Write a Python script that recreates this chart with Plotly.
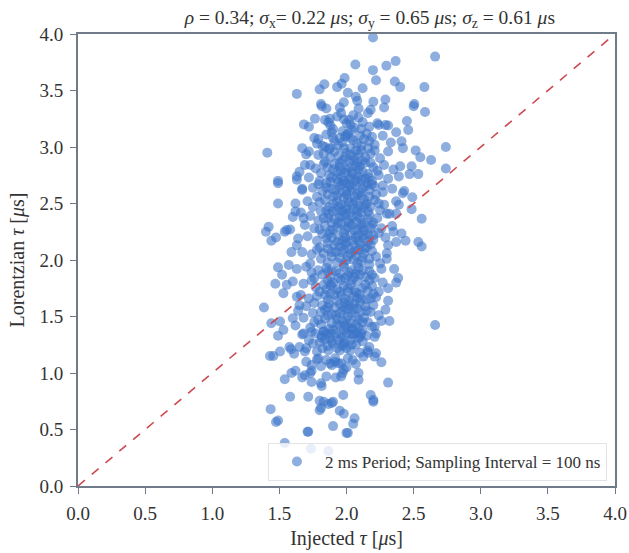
import plotly.graph_objects as go

# Outer / sparse points: (injected tau, lorentzian tau) in microseconds
outer_points = [
    (2.197, 3.97), (2.66, 3.80), (2.066, 3.73), (2.197, 3.68), (2.297, 3.72), (2.366, 3.76),
    (1.986, 3.61), (2.22, 3.59), (2.36, 3.58), (2.40, 3.53), (2.58, 3.53), (1.835, 3.555),
    (1.80, 3.51), (1.964, 3.56), (1.93, 3.53), (2.01, 3.48), (2.12, 3.52), (1.63, 3.47),
    (2.07, 3.445), (2.08, 3.41), (2.20, 3.40), (2.29, 3.42), (2.505, 3.38), (1.98, 3.395),
    (1.81, 3.38), (1.815, 3.36), (1.85, 3.34), (1.95, 3.35), (2.09, 3.34), (2.18, 3.33),
    (2.28, 3.35), (2.50, 3.36), (2.585, 3.31), (1.877, 3.25), (1.865, 3.22), (1.765, 3.25),
    (1.98, 3.245), (2.05, 3.28), (2.16, 3.30), (1.683, 3.20), (1.72, 3.18), (1.90, 3.16),
    (2.03, 3.20), (2.11, 3.16), (2.24, 3.195), (2.29, 3.195), (2.31, 3.19), (2.45, 3.23),
    (2.46, 3.15), (2.37, 3.13), (2.00, 3.105), (2.03, 3.08), (2.19, 3.09), (1.79, 3.07),
    (2.41, 3.05), (2.42, 2.99), (2.74, 3.00), (1.41, 2.95), (1.67, 2.99), (1.70, 2.935),
    (1.84, 3.00), (1.877, 2.99), (1.95, 3.08), (2.515, 2.97), (2.55, 2.91), (2.63, 2.885),
    (2.485, 2.83), (2.47, 2.76), (2.535, 2.76), (2.74, 2.81), (2.40, 2.83), (1.63, 2.74),
    (1.49, 2.70), (1.65, 2.78), (1.73, 2.84),
    (1.49, 2.68), (1.63, 2.71), (1.49, 2.50), (1.67, 2.63), (2.49, 2.555), (2.485, 2.45),
    (2.56, 2.365), (1.42, 2.295), (1.40, 2.25), (1.44, 2.17), (1.475, 2.20), (1.54, 2.25),
    (1.555, 2.265), (1.60, 2.38), (1.62, 2.43), (1.68, 2.37), (1.58, 2.27), (2.35, 2.25),
    (2.41, 2.235), (2.44, 2.17), (2.39, 2.49), (2.42, 2.59), (2.37, 2.41), (2.30, 2.41),
    (2.535, 2.16), (2.56, 2.12), (1.63, 2.13), (1.59, 2.07), (2.31, 2.13),
    (1.49, 1.935), (1.47, 1.79), (1.53, 1.705), (1.385, 1.58), (1.555, 1.78), (1.52, 1.87),
    (1.57, 1.955), (1.63, 1.675), (1.65, 1.60), (2.37, 1.80), (2.385, 1.84), (2.355, 1.92),
    (2.31, 1.75), (2.29, 1.56), (2.26, 1.46), (2.32, 1.46), (2.66, 1.425), (2.30, 2.01),
    (1.44, 1.44), (1.505, 1.455), (1.60, 1.485), (2.21, 1.41), (2.04, 1.395),
    (1.49, 1.33), (1.53, 1.38), (1.43, 1.15), (1.455, 1.15), (1.505, 1.19), (1.575, 1.23),
    (1.587, 1.21), (1.61, 1.17), (1.54, 0.944), (1.59, 1.00), (1.62, 1.02), (1.67, 0.96),
    (1.69, 0.98), (1.74, 0.92), (1.74, 1.02), (1.73, 1.00), (1.81, 0.91), (1.815, 0.885),
    (1.85, 0.97), (1.92, 0.96), (1.96, 0.97), (1.97, 1.00), (1.98, 1.03), (2.09, 1.00),
    (2.09, 0.94), (2.31, 0.915), (2.21, 1.32), (2.22, 1.35), (2.26, 1.095), (2.21, 1.145),
    (2.22, 1.175), (2.155, 1.20), (2.125, 1.145), (2.10, 1.18), (2.046, 1.115), (2.01, 1.13),
    (1.96, 1.085), (1.94, 1.085), (1.915, 1.10), (1.877, 1.085), (1.89, 1.07), (1.85, 1.115),
    (1.78, 1.12), (1.79, 1.13), (1.74, 1.07), (1.70, 1.10), (1.69, 1.19), (1.70, 1.22),
    (1.65, 1.23), (1.58, 0.79), (1.715, 0.79), (1.80, 0.755), (1.83, 0.746), (1.90, 0.746),
    (1.976, 0.805), (2.18, 0.805), (2.20, 0.76), (1.77, 1.35), (1.815, 1.33), (1.85, 1.345),
    (1.68, 1.35), (1.74, 1.365), (1.90, 1.26), (1.94, 1.29), (1.976, 1.26), (2.00, 1.22),
    (2.03, 1.20), (1.915, 1.13), (1.815, 1.31), (1.83, 1.365), (1.75, 1.26), (2.10, 1.32),
    (2.075, 1.35), (2.00, 1.35), (2.03, 1.34), (1.877, 1.31), (1.89, 1.35), (2.16, 1.18),
    (1.78, 1.19), (1.865, 1.20), (1.95, 1.20),
    (1.435, 0.68), (1.49, 0.58), (1.80, 0.67), (1.81, 0.69), (1.865, 0.725), (1.89, 0.735),
    (1.95, 0.666), (1.98, 0.64), (2.06, 0.60), (2.05, 0.55), (1.90, 0.53), (1.71, 0.48),
    (1.715, 0.48), (2.00, 0.47), (2.01, 0.47), (1.54, 0.38), (1.735, 0.33), (1.865, 0.31),
    (2.20, 0.746), (1.475, 0.566),
]

# Dense core of the cloud
core_points = [
    (1.93, 3.27), (2.02, 3.24), (2.12, 3.22), (1.88, 3.19), (2.06, 3.17), (2.23, 3.21), (1.97, 3.14), (2.15, 3.12),
    (1.76, 3.08), (1.85, 3.11), (1.91, 3.05), (1.99, 3.09), (2.08, 3.03), (2.13, 3.07), (2.21, 3.02), (2.27, 3.10),
    (1.82, 3.01), (2.03, 2.99), (2.33, 3.04),
    (1.72, 2.96), (1.79, 2.93), (1.87, 2.98), (1.94, 2.92), (2.00, 2.95), (2.06, 2.91), (2.11, 2.97), (2.18, 2.94),
    (2.25, 2.90), (2.31, 2.96), (1.97, 2.88), (2.08, 2.86), (1.84, 2.87),
    (1.69, 2.84), (1.77, 2.81), (1.83, 2.85), (1.90, 2.80), (1.95, 2.83), (2.02, 2.82), (2.09, 2.80), (2.14, 2.86),
    (2.20, 2.82), (2.28, 2.84), (2.35, 2.80), (1.99, 2.77), (2.05, 2.76), (2.16, 2.76), (1.87, 2.75),
    (1.72, 2.73), (1.80, 2.70), (1.93, 2.72), (1.98, 2.70), (2.03, 2.73), (2.11, 2.71), (2.19, 2.70), (2.24, 2.75),
    (2.31, 2.72), (2.39, 2.74), (1.85, 2.68), (2.07, 2.66), (2.14, 2.65), (1.95, 2.65), (2.27, 2.66),
    (1.67, 2.62), (1.75, 2.64), (1.82, 2.61), (1.89, 2.63), (2.00, 2.61), (2.04, 2.64), (2.10, 2.60), (2.17, 2.62),
    (2.22, 2.58), (2.34, 2.63), (2.43, 2.61), (1.93, 2.57), (1.98, 2.55), (2.06, 2.56), (2.13, 2.54), (1.78, 2.56),
    (1.71, 2.52), (1.84, 2.53), (1.90, 2.50), (1.96, 2.49), (2.02, 2.51), (2.09, 2.48), (2.15, 2.50), (2.21, 2.53),
    (2.28, 2.49), (2.37, 2.52), (1.62, 2.50), (1.75, 2.47), (2.00, 2.45), (2.25, 2.44),
    (1.66, 2.42), (1.73, 2.39), (1.81, 2.43), (1.87, 2.41), (1.93, 2.44), (1.99, 2.40), (2.04, 2.38), (2.11, 2.42),
    (2.17, 2.40), (2.23, 2.37), (2.32, 2.41), (1.91, 2.36), (2.07, 2.34), (2.13, 2.33), (1.79, 2.35),
    (1.69, 2.31), (1.76, 2.28), (1.84, 2.30), (1.90, 2.27), (1.96, 2.32), (2.01, 2.29), (2.06, 2.26), (2.12, 2.29),
    (2.19, 2.31), (2.26, 2.28), (2.34, 2.30), (1.98, 2.24), (2.09, 2.22), (2.16, 2.23), (1.87, 2.23),
    (1.64, 2.19), (1.71, 2.21), (1.78, 2.17), (1.85, 2.19), (1.93, 2.16), (1.99, 2.20), (2.04, 2.17), (2.10, 2.14),
    (2.20, 2.18), (2.29, 2.20), (2.37, 2.16), (1.95, 2.12), (2.02, 2.10), (2.15, 2.11), (1.80, 2.11),
    (1.67, 2.07), (1.74, 2.05), (1.83, 2.06), (1.89, 2.03), (1.96, 2.07), (2.07, 2.04), (2.13, 2.06), (2.22, 2.03),
    (2.30, 2.06), (2.00, 2.00), (2.11, 1.99), (1.86, 1.98), (2.25, 1.97), (1.73, 1.97),
    (1.63, 1.92), (1.70, 1.94), (1.79, 1.91), (1.85, 1.93), (1.92, 1.90), (1.98, 1.94), (2.04, 1.91), (2.09, 1.93),
    (2.17, 1.90), (2.26, 1.92), (2.01, 1.86), (2.14, 1.85), (1.88, 1.85), (1.76, 1.84), (2.21, 1.84),
    (1.60, 1.81), (1.68, 1.79), (1.74, 1.82), (1.83, 1.78), (1.90, 1.80), (1.96, 1.82), (2.03, 1.78), (2.08, 1.81),
    (2.19, 1.77), (2.27, 1.80), (1.93, 1.74), (2.06, 1.73), (2.12, 1.75), (1.80, 1.72), (2.24, 1.72),
    (1.66, 1.69), (1.72, 1.66), (1.78, 1.68), (1.86, 1.65), (1.91, 1.69), (1.99, 1.66), (2.05, 1.68), (2.15, 1.65),
    (2.22, 1.67), (2.31, 1.64), (1.95, 1.61), (2.02, 1.60), (2.10, 1.62), (1.82, 1.60), (1.70, 1.59),
    (1.64, 1.55), (1.75, 1.53), (1.84, 1.56), (1.89, 1.52), (1.97, 1.55), (2.04, 1.53), (2.08, 1.57), (2.18, 1.54),
    (2.24, 1.51), (1.93, 1.48), (2.00, 1.47), (2.13, 1.49), (1.79, 1.47), (1.68, 1.49),
    (1.62, 1.42), (1.73, 1.40), (1.81, 1.43), (1.87, 1.39), (1.95, 1.42), (2.01, 1.40), (2.07, 1.43), (2.12, 1.38),
    (2.19, 1.41), (1.92, 1.35), (2.05, 1.34), (2.15, 1.33), (1.67, 1.34),
    (1.80, 1.27), (1.86, 1.24), (1.93, 1.22), (1.99, 1.27), (2.07, 1.25), (2.12, 1.28), (1.72, 1.29), (2.17, 1.23),
    (1.81, 1.06), (2.00, 1.05), (2.07, 1.08),
]

# Extra points filling the most crowded centre of the cloud
center_points = [
    (1.96, 3.30), (2.09, 3.26), (1.84, 3.24), (2.17, 3.18), (2.00, 3.21),
    (1.89, 3.13), (2.01, 3.12), (2.10, 3.10), (1.94, 3.01), (2.17, 3.05), (2.05, 3.06), (1.78, 3.03),
    (1.83, 2.94), (1.91, 2.96), (1.98, 2.99), (2.03, 2.93), (2.14, 2.91), (2.21, 2.97), (2.09, 2.94),
    (1.95, 2.86), (2.12, 2.88), (2.02, 2.87),
    (1.86, 2.82), (1.93, 2.78), (2.00, 2.80), (2.07, 2.83), (2.12, 2.78), (2.23, 2.79), (1.81, 2.77),
    (1.96, 2.74), (2.09, 2.74), (2.02, 2.71), (2.17, 2.73),
    (1.79, 2.67), (1.88, 2.69), (1.92, 2.62), (1.97, 2.67), (2.02, 2.66), (2.08, 2.69), (2.15, 2.68),
    (2.21, 2.65), (2.00, 2.58), (2.11, 2.57), (1.86, 2.58), (2.27, 2.60),
    (1.80, 2.51), (1.87, 2.47), (1.93, 2.52), (2.05, 2.50), (2.12, 2.46), (2.18, 2.47), (1.97, 2.43),
    (2.03, 2.42), (2.08, 2.44), (1.85, 2.44), (2.24, 2.50),
    (1.83, 2.37), (1.89, 2.33), (1.95, 2.38), (2.01, 2.35), (2.10, 2.37), (2.16, 2.36), (2.20, 2.33),
    (1.93, 2.29), (2.04, 2.31), (2.13, 2.26), (1.80, 2.27),
    (1.82, 2.23), (1.89, 2.20), (1.97, 2.17), (2.07, 2.20), (2.13, 2.19), (2.24, 2.24), (1.91, 2.13),
    (2.06, 2.13), (1.99, 2.14), (2.18, 2.14),
    (1.78, 2.09), (1.86, 2.10), (1.92, 2.07), (2.03, 2.06), (2.09, 2.09), (2.17, 2.01), (1.95, 2.02),
    (2.05, 2.00), (1.81, 2.01), (2.19, 2.08),
    (1.74, 1.89), (1.82, 1.87), (1.89, 1.91), (1.95, 1.88), (2.07, 1.88), (2.12, 1.91), (1.99, 1.84),
    (2.06, 1.85), (2.19, 1.87), (1.86, 1.82),
    (1.77, 1.76), (1.85, 1.74), (1.89, 1.77), (1.98, 1.77), (2.01, 1.72), (2.10, 1.70), (2.16, 1.73),
    (1.96, 1.69), (2.08, 1.66), (1.84, 1.69), (2.20, 1.70),
    (1.76, 1.62), (1.87, 1.61), (1.91, 1.58), (1.99, 1.62), (2.06, 1.61), (2.14, 1.59), (1.95, 1.53),
    (2.01, 1.56), (2.11, 1.54), (1.81, 1.54), (2.20, 1.60),
    (1.76, 1.45), (1.84, 1.48), (1.89, 1.44), (1.97, 1.46), (2.03, 1.44), (2.09, 1.47), (1.98, 1.38),
    (2.09, 1.40), (1.83, 1.37), (2.16, 1.45),
    (1.84, 1.30), (1.89, 1.28), (1.96, 1.31), (2.03, 1.29), (2.09, 1.31), (1.97, 1.24), (2.04, 1.25), (1.82, 1.22),
]

# Innermost, most crowded strip around an injected tau of 2 us
inner_points = [
    (1.90, 3.08), (2.04, 3.15), (2.11, 3.01), (1.97, 3.04), (2.07, 2.97), (1.88, 2.91), (2.16, 2.99),
    (1.99, 2.91), (2.05, 2.88), (1.91, 2.85), (2.18, 2.86), (2.10, 2.83), (1.96, 2.79), (2.04, 2.78),
    (1.89, 2.73), (2.14, 2.72), (2.00, 2.68), (2.07, 2.71), (1.94, 2.69), (2.19, 2.67), (1.85, 2.64),
    (2.03, 2.61), (2.12, 2.63), (1.96, 2.60), (2.08, 2.58), (1.90, 2.56), (2.17, 2.56), (2.01, 2.54),
    (1.94, 2.47), (2.07, 2.52), (2.14, 2.49), (1.99, 2.47), (1.90, 2.43), (2.05, 2.45), (2.16, 2.43),
    (1.97, 2.39), (2.08, 2.39), (1.86, 2.37), (2.02, 2.33), (2.11, 2.31), (1.94, 2.33), (2.18, 2.28),
    (1.99, 2.27), (2.08, 2.27), (1.88, 2.26), (2.03, 2.22), (2.13, 2.22), (1.94, 2.21), (2.20, 2.22),
    (2.00, 2.16), (2.09, 2.17), (1.86, 2.15), (2.16, 2.16), (1.98, 2.09), (2.06, 2.08), (2.13, 2.10),
    (1.89, 2.07), (2.01, 2.03), (2.12, 2.02), (1.93, 1.98), (2.08, 1.97), (2.17, 1.96), (1.98, 1.96),
    (1.86, 1.90), (2.02, 1.89), (2.10, 1.87), (1.94, 1.84), (2.17, 1.82), (2.04, 1.82), (1.88, 1.78),
    (2.01, 1.75), (2.14, 1.78), (1.95, 1.72), (2.07, 1.71), (1.88, 1.70), (2.18, 1.66), (2.02, 1.64),
    (1.93, 1.64), (2.11, 1.66), (1.86, 1.58), (2.05, 1.57), (1.98, 1.58), (2.15, 1.55), (1.92, 1.51),
    (2.07, 1.50), (2.01, 1.50), (1.86, 1.51), (2.12, 1.45), (1.93, 1.43), (1.99, 1.42), (2.05, 1.38),
    (1.90, 1.38), (2.11, 1.35), (1.96, 1.34),
]

identity_line = [0.0, 4.0]
tick_values = [0.0, 0.5, 1.0, 1.5, 2.0, 2.5, 3.0, 3.5, 4.0]
tick_labels = ["0.0", "0.5", "1.0", "1.5", "2.0", "2.5", "3.0", "3.5", "4.0"]
legend_label = "2 ms Period; Sampling Interval = 100 ns"

pts = outer_points + core_points + center_points + inner_points
xs = [p[0] for p in pts]
ys = [p[1] for p in pts]

FONT = "Liberation Serif, Times New Roman, serif"
AXC = "#6f7b88"
TXT = "#333333"

fig = go.Figure()
fig.add_trace(go.Scatter(
    x=xs, y=ys, mode="markers", name=legend_label,
    marker=dict(size=10, color="rgba(58,115,200,0.58)", line=dict(width=0)),
))
fig.add_trace(go.Scatter(
    x=identity_line, y=identity_line, mode="lines", showlegend=False,
    line=dict(color="#cc4a50", width=1.6, dash="dash"),
))

axis_common = dict(
    range=[0, 4], tickvals=tick_values, ticktext=tick_labels,
    showgrid=False, zeroline=False, showline=True, mirror=True,
    linecolor=AXC, linewidth=2, ticks="outside", ticklen=6, tickwidth=1,
    tickcolor=AXC, tickfont=dict(family=FONT, size=19, color=TXT),
    ticklabelstandoff=3, automargin=False,
)

fig.update_layout(
    width=629, height=553,
    margin=dict(l=78, r=14, t=34, b=67, autoexpand=False),
    paper_bgcolor="white", plot_bgcolor="white",
    title=dict(
        text="<i>ρ</i> = 0.34; <i>σ</i><sub>x</sub>= 0.22 <i>μ</i>s; <i>σ</i><sub>y</sub> = 0.65 <i>μ</i>s; <i>σ</i><sub>z</sub> = 0.61 <i>μ</i>s",
        xref="container", yref="container",
        x=0.588, xanchor="center", y=0.969, yanchor="middle",
        font=dict(family=FONT, size=19.5, color=TXT),
    ),
    xaxis=dict(axis_common, title=dict(text="Injected <i>τ</i> [<i>μ</i>s]", standoff=8,
                                       font=dict(family=FONT, size=20, color=TXT))),
    yaxis=dict(axis_common, title=dict(text="Lorentzian <i>τ</i> [<i>μ</i>s]", standoff=9,
                                       font=dict(family=FONT, size=20, color=TXT))),
    legend=dict(
        x=0.985, y=0.011, xanchor="right", yanchor="bottom",
        bgcolor="rgba(255,255,255,0.8)", bordercolor="#e3e3e3", borderwidth=1,
        font=dict(family=FONT, size=17, color=TXT), itemwidth=46,
    ),
    showlegend=True,
)

# remove the default page margin so the 629x553 figure fills the window exactly
fig.write_html(
    "out.html",
    config={"displayModeBar": False},
    post_script="document.body.style.margin='0';document.body.style.overflow='hidden';",
)
